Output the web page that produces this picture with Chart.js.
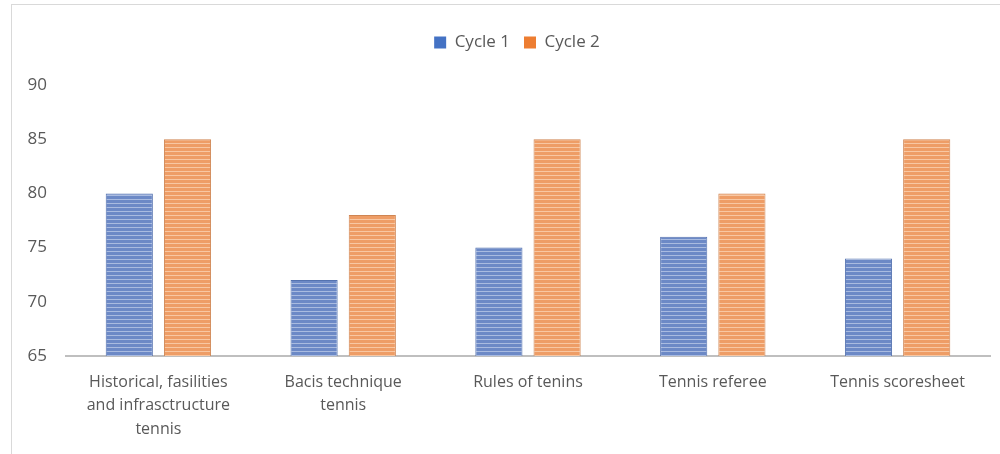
<!DOCTYPE html>
<html>
<head>
<meta charset="utf-8">
<script src="https://cdn.jsdelivr.net/npm/chart.js@4"></script>
<style>
  html, body { margin: 0; padding: 0; background: #fff; }
  #wrap { position: relative; width: 1000px; height: 454px; }
  #frame { position: absolute; left: 11px; top: 4px; right: 0; bottom: 0;
           border-left: 1px solid #d9d9d9; border-top: 1px solid #d9d9d9; }
  canvas { position: absolute; left: 0; top: 0; }
</style>
</head>
<body>
<div id="wrap">
  <div id="frame"></div>
  <canvas id="chart"></canvas>
</div>
<script>
// chart data
const categories = [
  ['Historical, fasilities', 'and infrasctructure', 'tennis'],
  ['Bacis technique', 'tennis'],
  'Rules of tenins',
  'Tennis referee',
  'Tennis scoresheet'
];
const cycle1 = [80, 72, 75, 76, 74];
const cycle2 = [85, 78, 85, 80, 85];
const yTicks = [65, 70, 75, 80, 85, 90];

// striped fill like the original picture
function stripes(base, line) {
  const c = document.createElement('canvas');
  c.width = 4; c.height = 4;
  const g = c.getContext('2d');
  g.fillStyle = base;
  g.fillRect(0, 0, 4, 4);
  g.fillStyle = line;
  g.fillRect(0, 3, 4, 1);
  return g.createPattern(c, 'repeat');
}

const blueFill = stripes('#6c89c6', '#a9bbe0');
const orangeFill = stripes('#ee9d66', '#f8c7a2');
const solid = ['#4472c4', '#ed7d31'];

// push the plot area down below the legend, nudge legend a bit right
const legendGap = {
  id: 'legendGap',
  beforeInit(chart) {
    const fit = chart.legend.fit;
    chart.legend.fit = function () {
      fit.bind(chart.legend)();
      this.height += 24;
    };
  },
  afterLayout(chart) {
    chart.legend.left += 17;
    chart.legend.right += 17;
  }
};

const ctx = document.getElementById('chart');
new Chart(ctx, {
  type: 'bar',
  data: {
    labels: categories,
    datasets: [{
      label: 'Cycle 1',
      data: cycle1,
      backgroundColor: blueFill,
      borderColor: '#5573b0',
      borderWidth: 1
    }, {
      label: 'Cycle 2',
      data: cycle2,
      backgroundColor: orangeFill,
      borderColor: '#cf8552',
      borderWidth: 1
    }]
  },
  plugins: [legendGap],
  options: {
    responsive: true,
    maintainAspectRatio: false,
    animation: false,
    devicePixelRatio: 1,
    layout: { padding: { left: 10, right: 10, top: 20, bottom: 0 } },
    datasets: { bar: { categoryPercentage: 0.63, barPercentage: 0.81 } },
    plugins: {
      legend: {
        position: 'top',
        labels: {
          boxWidth: 12,
          boxHeight: 12,
          padding: 14,
          color: '#595959',
          font: { family: 'Open Sans', size: 17 },
          generateLabels(chart) {
            const items = Chart.defaults.plugins.legend.labels.generateLabels(chart);
            items.forEach((it, i) => { it.fillStyle = solid[i]; it.strokeStyle = solid[i]; it.lineWidth = 0; });
            return items;
          }
        }
      },
      tooltip: { enabled: false }
    },
    scales: {
      x: {
        grid: { display: false },
        border: { display: true, color: '#bfbfbf', width: 2 },
        afterFit(s) { s.height = 98; },
        ticks: {
          color: '#595959',
          padding: 7,
          maxRotation: 0,
          font: { family: 'Open Sans', size: 16, lineHeight: 1.45 }
        }
      },
      y: {
        min: yTicks[0],
        max: yTicks[yTicks.length - 1],
        grid: { display: false },
        border: { display: false },
        afterFit(s) { s.width = 56; },
        afterBuildTicks(s) { s.ticks = yTicks.map(v => ({ value: v })); },
        ticks: {
          color: '#595959',
          padding: 11,
          font: { family: 'Open Sans', size: 17 }
        }
      }
    }
  }
});
</script>
</body>
</html>
